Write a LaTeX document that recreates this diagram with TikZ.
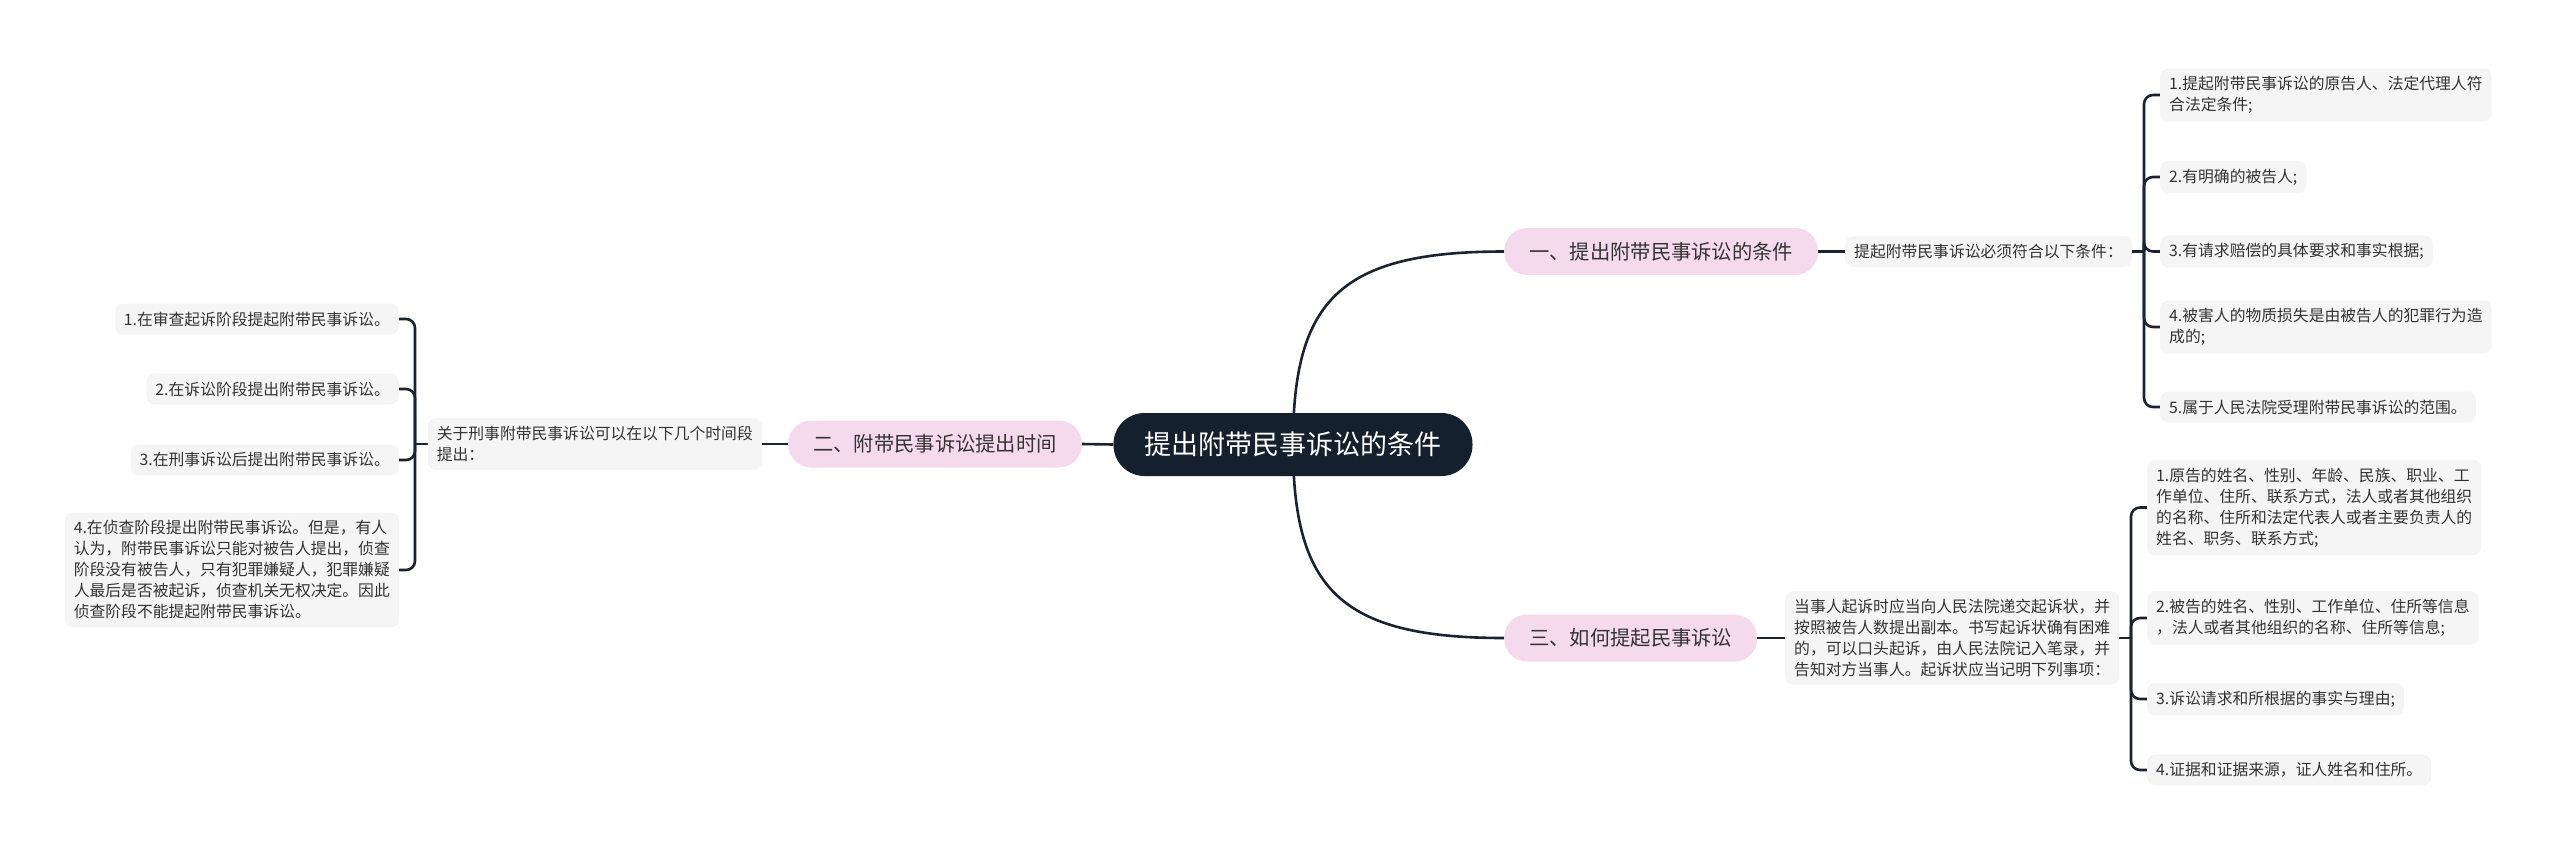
\documentclass[tikz,border=0pt]{standalone}
\usepackage{fontspec}
\newfontfamily\cjk{Noto Sans CJK SC}
\usetikzlibrary{backgrounds}
\definecolor{navy}{HTML}{15202E}
\definecolor{pinkf}{HTML}{F5DAEE}
\definecolor{leaff}{HTML}{F5F5F5}
\definecolor{linec}{HTML}{1B2230}
\definecolor{txt}{HTML}{333333}
\tikzset{
  rootbox/.style={fill=navy, text=white, rounded corners=31pt, minimum height=63pt, inner xsep=31pt, font=\cjk\fontsize{27}{32}\selectfont},
  pillbox/.style={fill=pinkf, text=txt, rounded corners=23pt, minimum height=47pt, inner xsep=25pt, font=\cjk\fontsize{20.3}{24}\selectfont},
  leafbox/.style={fill=leaff, text=txt, rounded corners=8pt, inner xsep=9pt, inner ysep=8pt, align=left, font=\cjk\fontsize{15.8}{21}\selectfont},
  conn/.style={draw=linec, line width=2.6pt},
  brk/.style={draw=linec, line width=2.6pt, rounded corners=9pt}
}
\begin{document}
\begin{tikzpicture}[x=1pt,y=-1pt]
\useasboundingbox (0,0) rectangle (2560,855);
% root
\node[rootbox] (root) at (1293,444.5) {提出附带民事诉讼的条件};
% branches
\node[pillbox, anchor=west] (b1) at (1504,251.5) {一、提出附带民事诉讼的条件};
\node[pillbox, anchor=east] (b2) at (1082,444) {二、附带民事诉讼提出时间};
\node[pillbox, anchor=west] (b3) at (1504,638) {三、如何提起民事诉讼};
% level 2
\node[leafbox, anchor=west] (m1) at (1845,251.5) {提起附带民事诉讼必须符合以下条件：};
\node[leafbox, anchor=east] (m2) at (762,444) {关于刑事附带民事诉讼可以在以下几个时间段\\提出：};
\node[leafbox, anchor=west] (m3) at (1785,638) {当事人起诉时应当向人民法院递交起诉状，并\\按照被告人数提出副本。书写起诉状确有困难\\的，可以口头起诉，由人民法院记入笔录，并\\告知对方当事人。起诉状应当记明下列事项：};
% junctions
\coordinate (j1) at (2144,251.5);
\coordinate (j2) at (415,444);
\coordinate (j3) at (2131,638);
% leaves branch 1
\node[leafbox, anchor=west] (a1) at (2160,95) {1.提起附带民事诉讼的原告人、法定代理人符\\合法定条件;};
\node[leafbox, anchor=west] (a2) at (2160,177) {2.有明确的被告人;};
\node[leafbox, anchor=west] (a3) at (2160,251.5) {3.有请求赔偿的具体要求和事实根据;};
\node[leafbox, anchor=west] (a4) at (2160,327) {4.被害人的物质损失是由被告人的犯罪行为造\\成的;};
\node[leafbox, anchor=west] (a5) at (2160,407) {5.属于人民法院受理附带民事诉讼的范围。};
% leaves branch 2
\node[leafbox, anchor=east] (c1) at (399,319) {1.在审查起诉阶段提起附带民事诉讼。};
\node[leafbox, anchor=east] (c2) at (399,389) {2.在诉讼阶段提出附带民事诉讼。};
\node[leafbox, anchor=east] (c3) at (399,460) {3.在刑事诉讼后提出附带民事诉讼。};
\node[leafbox, anchor=east] (c4) at (399,570) {4.在侦查阶段提出附带民事诉讼。但是，有人\\认为，附带民事诉讼只能对被告人提出，侦查\\阶段没有被告人，只有犯罪嫌疑人，犯罪嫌疑\\人最后是否被起诉，侦查机关无权决定。因此\\侦查阶段不能提起附带民事诉讼。};
% leaves branch 3
\node[leafbox, anchor=west] (d1) at (2147,507.5) {1.原告的姓名、性别、年龄、民族、职业、工\\作单位、住所、联系方式，法人或者其他组织\\的名称、住所和法定代表人或者主要负责人的\\姓名、职务、联系方式;};
\node[leafbox, anchor=west] (d2) at (2147,618) {2.被告的姓名、性别、工作单位、住所等信息\\，法人或者其他组织的名称、住所等信息;};
\node[leafbox, anchor=west] (d3) at (2147,699) {3.诉讼请求和所根据的事实与理由;};
\node[leafbox, anchor=west] (d4) at (2147,770) {4.证据和证据来源，证人姓名和住所。};
\begin{pgfonlayer}{background}
\draw[conn] (root.center) .. controls (1293,300) and (1340,251.5) .. (b1.west);
\draw[conn] (root.center) .. controls (1293,589) and (1340,638) .. (b3.west);
\draw[conn] (root.west) -- (b2.east);
\draw[conn] (b1.east) -- (m1.west);
\draw[conn] (b2.west) -- (m2.east);
\draw[conn] (b3.east) -- (m3.west);
\draw[conn] (m1.east) -- (j1);
\draw[conn] (m2.west) -- (j2);
\draw[conn] (m3.east) -- (j3);
\foreach \n in {a1,a2,a3,a4,a5} \draw[brk] (j1) |- (\n.west);
\foreach \n in {c1,c2,c3,c4} \draw[brk] (j2) |- (\n.east);
\foreach \n in {d1,d2,d3,d4} \draw[brk] (j3) |- (\n.west);
\end{pgfonlayer}
\end{tikzpicture}
\end{document}
